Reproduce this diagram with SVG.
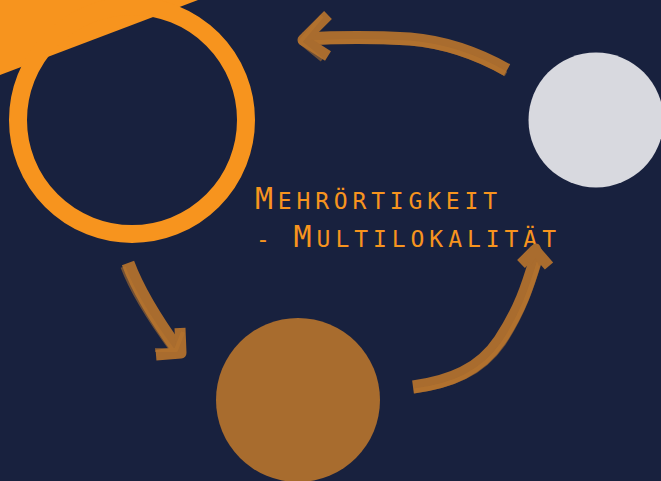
<svg xmlns="http://www.w3.org/2000/svg" width="661" height="481" viewBox="0 0 661 481">
<style>
.brush{fill:none;stroke:#a96c2e;stroke-linecap:butt;stroke-linejoin:round}
.brush2{fill:none;stroke:#b87630;stroke-opacity:0.55;stroke-linecap:butt;stroke-linejoin:round}
.title{font-family:"DejaVu Sans Mono","Liberation Mono",monospace;font-size:30px;fill:#f7941e}
.sc{font-size:23px;text-transform:uppercase}
</style>
<rect width="661" height="481" fill="#18213e"/>
<g id="ring">
<polygon points="0,0 198,0 0,75" fill="#f7941e"/>
<circle cx="132" cy="120" r="114" fill="none" stroke="#f7941e" stroke-width="18"/>
</g>
<g id="grey-circle"><circle cx="596" cy="120" r="67.5" fill="#d8d9df"/></g>
<g id="brown-circle"><circle cx="298" cy="400" r="82" fill="#a86c2e"/></g>
<g id="title">
<text class="title" x="255" y="209" textLength="242" lengthAdjust="spacing">M<tspan class="sc">ehrörtigkeit</tspan></text>
<text class="title" x="256" y="247" textLength="300" lengthAdjust="spacing"><tspan class="sc">- </tspan>M<tspan class="sc">ultilokalität</tspan></text>
</g>
<g id="connectors">
<path class="brush" stroke-width="13" d="M507,70 C475,52 445,42 410,39 C375,37 340,37 303,39"/>
<path class="brush2" stroke-width="5" d="M506,74 C475,56 445,46 410,43 C375,41 340,41 305,43"/>
<path class="brush" stroke-width="11" d="M328,15 L303,40 L328,56"/>
<path class="brush2" stroke-width="4" d="M322,16 L300,42 L322,60"/>
<path class="brush" stroke-width="13" d="M128,263 C138,290 155,318 178,350"/>
<path class="brush2" stroke-width="5" d="M123,267 C133,294 150,320 172,350"/>
<path class="brush" stroke-width="11" d="M156,355 L181,353 L180,328"/>
<path class="brush2" stroke-width="4" d="M155,350 L176,350 L183,332"/>
<path class="brush" stroke-width="13" d="M413,387 C450,382 480,370 500,340 C520,310 528,285 536,258"/>
<path class="brush2" stroke-width="5" d="M414,391 C452,386 482,374 503,344 C523,314 531,289 540,260"/>
<path class="brush" stroke-width="11" d="M521,264 L535,250 L549,266"/>
<path class="brush" stroke-width="9" d="M528,262 L536,248 L543,264"/>
</g>
</svg>
